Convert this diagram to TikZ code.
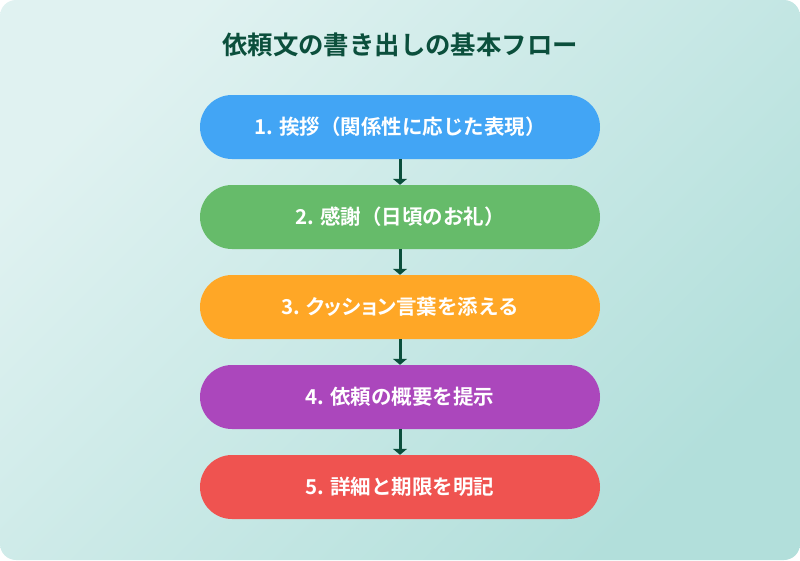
\documentclass[tikz,border=0pt]{standalone}
\usepackage{fontspec}
\setmainfont{Noto Sans CJK JP}[BoldFont={Noto Sans CJK JP Bold}]
\usetikzlibrary{arrows.meta}
\definecolor{bgA}{HTML}{E0F2F1}
\definecolor{bgB}{HTML}{B2DFDB}
\definecolor{ttl}{HTML}{0B4F3C}
\definecolor{arr}{HTML}{0B4F3C}
\definecolor{cA}{HTML}{42A5F5}
\definecolor{cB}{HTML}{66BB6A}
\definecolor{cC}{HTML}{FFA726}
\definecolor{cD}{HTML}{AB47BC}
\definecolor{cE}{HTML}{EF5350}
\tikzset{
  stepbox/.style={rounded corners=32pt, minimum width=400pt, minimum height=64pt,
    inner sep=0pt, text=white, font=\bfseries\fontsize{20.5}{24}\selectfont, anchor=center},
  flowarrow/.style={draw=arr, line width=3pt, -{Triangle[width=14pt,length=6pt]}, shorten >=0pt},
}
\begin{document}
\begin{tikzpicture}[x=1pt,y=-1pt]
\useasboundingbox (0,0) rectangle (800,560);
\shade[top color=bgA, bottom color=bgB, shading angle=45, rounded corners=16pt] (0,0) rectangle (800,560);
\node[text=ttl, font=\bfseries\fontsize{25.4}{30}\selectfont] (title) at (400,45) {依頼文の書き出しの基本フロー};
\node[stepbox, fill=cA] (s1) at (400,127) {1. 挨拶（関係性に応じた表現）};
\node[stepbox, fill=cB] (s2) at (400,217) {2. 感謝（日頃のお礼）};
\node[stepbox, fill=cC] (s3) at (400,307) {3. {\addfontfeature{RawFeature=+palt}クッション}言葉を添える};
\node[stepbox, fill=cD] (s4) at (400,397) {4. 依頼の概要を提示};
\node[stepbox, fill=cE] (s5) at (400,487) {5. 詳細と期限を明記};
\draw[flowarrow] (s1.south) -- (s2.north);
\draw[flowarrow] (s2.south) -- (s3.north);
\draw[flowarrow] (s3.south) -- (s4.north);
\draw[flowarrow] (s4.south) -- (s5.north);
\end{tikzpicture}
\end{document}
